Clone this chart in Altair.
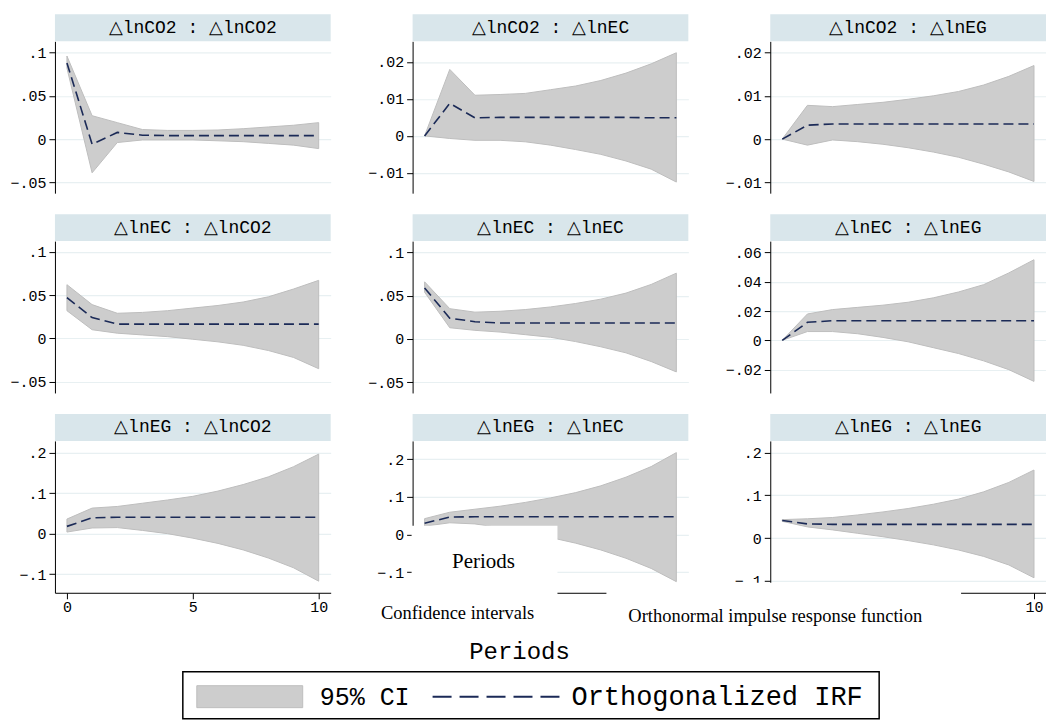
import altair as alt
import pandas as pd

periods = list(range(11))

titles = ["△lnCO2 : △lnCO2", "△lnCO2 : △lnEC", "△lnCO2 : △lnEG",
          "△lnEC : △lnCO2", "△lnEC : △lnEC", "△lnEC : △lnEG",
          "△lnEG : △lnCO2", "△lnEG : △lnEC", "△lnEG : △lnEG"]

irf_1 = [0.088, -0.006, 0.0077, 0.0045, 0.004, 0.004, 0.004, 0.004, 0.004, 0.004, 0.004]
hi_1 = [0.096, 0.027, 0.019, 0.011, 0.010, 0.010, 0.0105, 0.012, 0.014, 0.016, 0.019]
lo_1 = [0.082, -0.039, -0.004, -0.001, -0.001, -0.001, -0.002, -0.003, -0.005, -0.007, -0.011]

irf_2 = [0.0, 0.0088, 0.0049, 0.005, 0.005, 0.005, 0.005, 0.005, 0.005, 0.0049, 0.0049]
hi_2 = [0.0, 0.018, 0.011, 0.0112, 0.0115, 0.0125, 0.0135, 0.015, 0.017, 0.0195, 0.0225]
lo_2 = [0.0, -0.0007, -0.0012, -0.0012, -0.0016, -0.0025, -0.0037, -0.005, -0.0068, -0.009, -0.0125]

irf_3 = [0.0, 0.0032, 0.0035, 0.0035, 0.0035, 0.0035, 0.0035, 0.0035, 0.0035, 0.0035, 0.0035]
hi_3 = [0.0, 0.0078, 0.0075, 0.008, 0.0085, 0.0092, 0.010, 0.011, 0.0125, 0.0145, 0.017]
lo_3 = [0.0, -0.0014, -0.0002, -0.0006, -0.0012, -0.002, -0.003, -0.0042, -0.0058, -0.0076, -0.0098]

irf_4 = [0.047, 0.024, 0.0165, 0.0165, 0.0165, 0.0165, 0.0165, 0.0165, 0.0165, 0.0165, 0.0165]
hi_4 = [0.062, 0.039, 0.029, 0.030, 0.032, 0.035, 0.038, 0.042, 0.048, 0.057, 0.067]
lo_4 = [0.032, 0.010, 0.006, 0.004, 0.002, -0.001, -0.004, -0.008, -0.014, -0.022, -0.035]

irf_5 = [0.059, 0.024, 0.020, 0.0185, 0.0185, 0.0185, 0.0185, 0.0185, 0.0185, 0.0185, 0.0185]
hi_5 = [0.066, 0.035, 0.031, 0.032, 0.034, 0.037, 0.041, 0.046, 0.053, 0.063, 0.076]
lo_5 = [0.054, 0.013, 0.010, 0.008, 0.005, 0.002, -0.003, -0.009, -0.016, -0.026, -0.038]

irf_6 = [0.0, 0.0123, 0.0134, 0.0134, 0.0134, 0.0134, 0.0134, 0.0134, 0.0134, 0.0134, 0.0134]
hi_6 = [0.0, 0.018, 0.021, 0.0225, 0.024, 0.026, 0.029, 0.033, 0.038, 0.046, 0.055]
lo_6 = [0.0, 0.006, 0.006, 0.0045, 0.002, -0.001, -0.005, -0.009, -0.014, -0.020, -0.028]

irf_7 = [0.018, 0.039, 0.0405, 0.0405, 0.0405, 0.0405, 0.0405, 0.0405, 0.0405, 0.0405, 0.0405]
hi_7 = [0.036, 0.063, 0.067, 0.075, 0.083, 0.092, 0.105, 0.121, 0.140, 0.165, 0.196]
lo_7 = [0.004, 0.014, 0.015, 0.008, 0.0, -0.011, -0.024, -0.040, -0.060, -0.084, -0.117]

irf_8 = [0.030, 0.046, 0.047, 0.047, 0.047, 0.047, 0.047, 0.047, 0.047, 0.047, 0.047]
hi_8 = [0.042, 0.059, 0.067, 0.075, 0.085, 0.097, 0.111, 0.129, 0.152, 0.180, 0.217]
lo_8 = [0.022, 0.031, 0.028, 0.018, 0.006, -0.008, -0.023, -0.041, -0.063, -0.090, -0.125]

irf_9 = [0.041, 0.033, 0.032, 0.032, 0.032, 0.032, 0.032, 0.032, 0.032, 0.032, 0.032]
hi_9 = [0.043, 0.045, 0.048, 0.054, 0.061, 0.069, 0.079, 0.091, 0.108, 0.130, 0.159]
lo_9 = [0.039, 0.026, 0.019, 0.011, 0.003, -0.006, -0.016, -0.028, -0.043, -0.063, -0.093]

y_domains = [[-0.0625, 0.113], [-0.0155, 0.0256], [-0.0125, 0.0226],
             [-0.063, 0.1123], [-0.0623, 0.113], [-0.0359, 0.0677],
             [-0.1456, 0.2285], [-0.1545, 0.248], [-0.128, 0.227]]
y_ticks = [[-0.05, 0, 0.05, 0.1], [-0.01, 0, 0.01, 0.02], [-0.01, 0, 0.01, 0.02],
           [-0.05, 0, 0.05, 0.1], [-0.05, 0, 0.05, 0.1], [-0.02, 0, 0.02, 0.04, 0.06],
           [-0.1, 0, 0.1, 0.2], [-0.1, 0, 0.1, 0.2], [-0.1, 0, 0.1, 0.2]]
x_ticks = [0, 5, 10]

legend_labels = ["95% CI", "Orthogonalized IRF"]
x_title = "Periods"
overlay_texts = ["Periods", "Confidence intervals", "Orthonormal impulse response function"]

series = [(irf_1, lo_1, hi_1), (irf_2, lo_2, hi_2), (irf_3, lo_3, hi_3),
          (irf_4, lo_4, hi_4), (irf_5, lo_5, hi_5), (irf_6, lo_6, hi_6),
          (irf_7, lo_7, hi_7), (irf_8, lo_8, hi_8), (irf_9, lo_9, hi_9)]

W, H = 276, 152
HDR_H = 27
COL_SP, ROW_SP = 82, 48
MONO = "Liberation Mono"
SERIF = "Liberation Serif"
BAND = "#cdcdcd"
BAND_EDGE = "#bebebe"
NAVY = "#1b2a57"
HDR = "#d9e6eb"
GRID = "#e8f0f2"

LABEL_EXPR = ("datum.value == 0 ? '0' : (datum.value < 0 ? '\u2212' : '') + "
              "replace(format(abs(datum.value), '~g'), '0.', '.')")

ORIG9 = (55 + 2 * (W + COL_SP), 41 + 2 * (H + ROW_SP))


def one(d):
    return pd.DataFrame({"t": [d]})


def rect(x1, y1, x2, y2, **kw):
    return alt.Chart(one("")).mark_rect(**kw).encode(
        x=alt.value(x1), x2=alt.value(x2), y=alt.value(y1), y2=alt.value(y2))


def text(s, x, y, **kw):
    return alt.Chart(one(s)).mark_text(**kw).encode(
        text="t:N", x=alt.value(x), y=alt.value(y))


def panel(i):
    irf, lo, hi = series[i]
    df = pd.DataFrame({"period": periods, "irf": irf, "lo": lo, "hi": hi})
    bottom = i >= 6
    if bottom:
        extra = {}
        if i == 7:
            extra["labels"] = False  # covered by the white overlay in the reference
        if i == 8:
            extra["labelExpr"] = "datum.value == 10 ? '10' : ''"
        xaxis = alt.Axis(values=x_ticks, grid=False, title=None, domainColor="#000",
                         tickColor="#000", tickSize=6, labelFont=MONO, labelFontSize=15,
                         labelColor="#000", labelPadding=1, labelFlush=False, **extra)
    else:
        xaxis = None
    xs = alt.Scale(domain=[-0.476, 10.476], nice=False, zero=False)
    ys = alt.Scale(domain=y_domains[i], nice=False, zero=False)
    yaxis = alt.Axis(values=y_ticks[i], grid=True, gridColor=GRID, gridWidth=1.2,
                     title=None, domainColor="#000", tickColor="#000", tickSize=6,
                     labelFont=MONO, labelFontSize=15, labelColor="#000",
                     labelPadding=3, labelExpr=LABEL_EXPR, labelFlush=False)
    band = alt.Chart(df).mark_area(fill=BAND, stroke=BAND_EDGE, strokeWidth=1).encode(
        x=alt.X("period:Q", scale=xs, axis=xaxis),
        y=alt.Y("lo:Q", scale=ys, axis=yaxis),
        y2="hi:Q")
    line = alt.Chart(df).mark_line(color=NAVY, strokeWidth=1.6, strokeDash=[10, 5]).encode(
        x=alt.X("period:Q", scale=xs, axis=xaxis),
        y=alt.Y("irf:Q", scale=ys, axis=yaxis))
    head = rect(0, -HDR_H, W, 0, fill=HDR)
    htxt = text(titles[i], W / 2, -HDR_H / 2, font=MONO, fontSize=18, color="#000",
                baseline="middle", align="center")
    layers = [band, line, head, htxt]
    if i == 0:
        layers.append(rect(-55, -41, -54, -40, fill="white", opacity=0.01))
    if i == 8:
        ox, oy = ORIG9

        def R(x1, y1, x2, y2, **kw):
            return rect(x1 - ox, y1 - oy, x2 - ox, y2 - oy, **kw)

        def T(s, x, y, **kw):
            return text(s, x - ox, y - oy, **kw)

        layers += [
            R(412, 526, 558, 636, fill="white"),
            R(607, 583, 962, 636, fill="white"),
            T(overlay_texts[0], 484, 562, font=SERIF, fontSize=21, color="#000",
              align="center", baseline="middle"),
            T(overlay_texts[1], 458, 613, font=SERIF, fontSize=18.5, color="#000",
              align="center", baseline="middle"),
            T(overlay_texts[2], 776, 616, font=SERIF, fontSize=18.5, color="#000",
              align="center", baseline="middle"),
            T(x_title, 520, 652, font=MONO, fontSize=24, color="#000",
              align="center", baseline="middle"),
            R(183, 672, 880, 719, fill="white", stroke="#000", strokeWidth=1.5),
            R(197, 686, 303, 708, fill=BAND, stroke=BAND_EDGE, strokeWidth=1),
            T(legend_labels[0], 320, 697, font=MONO, fontSize=25, color="#000",
              align="left", baseline="middle"),
            alt.Chart(one("")).mark_rule(color=NAVY, strokeWidth=2, strokeDash=[19, 8]).encode(
                x=alt.value(433 - ox), x2=alt.value(562 - ox), y=alt.value(697 - oy)),
            T(legend_labels[1], 572, 697, font=MONO, fontSize=27, color="#000",
              align="left", baseline="middle"),
        ]
    return alt.layer(*layers).properties(width=W, height=H)


chart = alt.concat(*[panel(i) for i in range(9)], columns=3,
                   spacing={"row": ROW_SP, "column": COL_SP}, bounds="flush").properties(
    padding=0, background="white"
).configure_view(stroke=None)

chart.save("out.html", embed_options={"renderer": "svg", "actions": False})
